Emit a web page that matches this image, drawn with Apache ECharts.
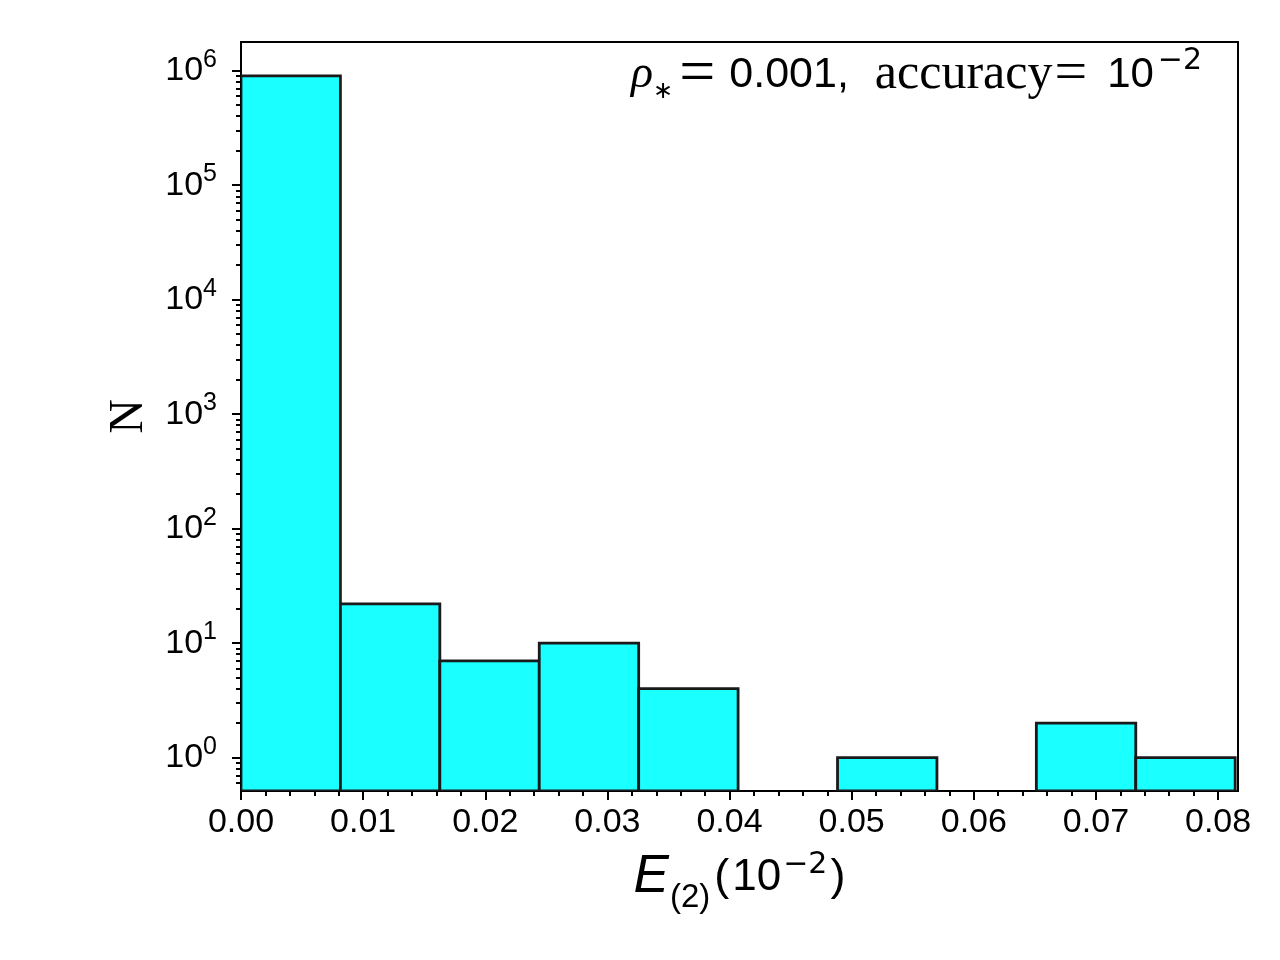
<!DOCTYPE html>
<html>
<head>
<meta charset="utf-8">
<script src="https://cdn.jsdelivr.net/npm/echarts@6/dist/echarts.min.js"></script>
<style>
  html, body { margin: 0; padding: 0; background: #fff; }
  #main { width: 1280px; height: 960px; }
</style>
</head>
<body>
<div id="main"></div>
<script>
// histogram: bin edges and counts
var binLeft  = [0, 0.00814, 0.01628, 0.02442, 0.03256, 0.0407, 0.04884, 0.05698, 0.06512, 0.07326];
var binRight = [0.00814, 0.01628, 0.02442, 0.03256, 0.0407, 0.04884, 0.05698, 0.06512, 0.07326, 0.0814];
var counts   = [900000, 22, 7, 10, 4, 0, 1, 0, 2, 1];

// axis ranges and ticks
var xMin = 0, xMax = 0.08163;
var yMin = 0.511, yMax = 1.78e6;
var xTicks = [0, 0.01, 0.02, 0.03, 0.04, 0.05, 0.06, 0.07, 0.08];
var xMinorTicks = [0.002, 0.004, 0.006, 0.008, 0.012, 0.014, 0.016, 0.018,
                   0.022, 0.024, 0.026, 0.028, 0.032, 0.034, 0.036, 0.038,
                   0.042, 0.044, 0.046, 0.048, 0.052, 0.054, 0.056, 0.058,
                   0.062, 0.064, 0.066, 0.068, 0.072, 0.074, 0.076, 0.078];
var yTicks = [1, 10, 100, 1000, 10000, 100000, 1000000];
var yMinorTicks = [0.6, 0.7, 0.8, 0.9];
yTicks.slice(0, 6).forEach(function (d) {
    for (var m = 2; m <= 9; m++) yMinorTicks.push(m * d);
});

var black = '#000';
var sans = 'Liberation Sans';
var serif = 'Liberation Serif';
var dejavu = 'DejaVu Sans';

function txt(family, size, extra) {
    var s = { fontFamily: family, fontSize: size, fontWeight: 'normal', color: black };
    for (var k in extra) s[k] = extra[k];
    return s;
}

var chart = echarts.init(document.getElementById('main'));

var option = {
    animation: false,
    backgroundColor: '#fff',
    title: {
        text: '{r|ρ}{st|∗}{eq|=}{n|0.001,}{a|accuracy}{eq2|=}{n2|10}{sup|−2}',
        left: 631,
        top: 43,
        padding: 0,
        textStyle: {
            fontWeight: 'normal',
            rich: {
                r: txt(serif, 46, { fontStyle: 'italic' }),
                st: txt(dejavu, 24, { padding: [33, 0, 0, 0] }),
                eq: txt(serif, 64, { padding: [0, 10, 0, 6] }),
                n: txt(sans, 43, { padding: [0, 0, 0, 4] }),
                a: txt(serif, 50, { padding: [0, 0, 0, 26] }),
                eq2: txt(serif, 58, { padding: [0, 0, 0, 2] }),
                n2: txt(sans, 42, { padding: [0, 0, 0, 20] }),
                sup: txt(dejavu, 30, { padding: [0, 0, 27, 4] })
            }
        }
    },
    grid: {
        left: 241, right: 42, top: 42, bottom: 169,
        show: true, borderColor: black, borderWidth: 2, backgroundColor: 'transparent'
    },
    xAxis: [{
        type: 'value', min: xMin, max: xMax,
        position: 'bottom',
        axisLine: { lineStyle: { color: black, width: 2 } },
        axisTick: { customValues: xTicks, length: 9, lineStyle: { color: black, width: 2 } },
        axisLabel: {
            customValues: xTicks, margin: 15, color: black, fontFamily: sans, fontSize: 34,
            formatter: function (v) { return v.toFixed(2); }
        },
        splitLine: { show: false },
        name: '{e|E}{sub|(2)}{p1|(}{n|10}{sup|−2}{p2|)}',
        nameLocation: 'middle',
        nameGap: 50,
        nameTextStyle: {
            rich: {
                e: txt(sans, 53, { fontStyle: 'italic' }),
                sub: txt(sans, 33, { padding: [40, 0, 0, 1] }),
                p1: txt(sans, 45, { padding: [0, 3, 0, 4] }),
                n: txt(sans, 44),
                sup: txt(dejavu, 30, { padding: [0, 0, 25, 2] }),
                p2: txt(sans, 45, { padding: [0, 0, 0, 3] })
            }
        }
    }, {
        type: 'value', min: xMin, max: xMax,
        position: 'bottom',
        axisLine: { show: false },
        axisTick: { customValues: xMinorTicks, length: 5, lineStyle: { color: black, width: 2 } },
        axisLabel: { show: false },
        splitLine: { show: false }
    }],
    yAxis: [{
        type: 'log', logBase: 10, min: yMin, max: yMax,
        position: 'left',
        axisLine: { show: true, lineStyle: { color: black, width: 2 } },
        axisTick: { show: true, customValues: yTicks, length: 9, lineStyle: { color: black, width: 2 } },
        axisLabel: {
            customValues: yTicks, margin: 24, color: black,
            formatter: function (v) {
                return '{b|10}{s|' + Math.round(Math.log10(v)) + '}';
            },
            rich: {
                b: txt(sans, 34),
                s: txt(sans, 25, { padding: [0, 0, 22, 0] })
            }
        },
        splitLine: { show: false },
        name: 'N',
        nameLocation: 'middle',
        nameGap: 88,
        nameTextStyle: txt(serif, 48)
    }, {
        type: 'log', logBase: 10, min: yMin, max: yMax,
        position: 'left',
        axisLine: { show: false },
        axisTick: { show: true, customValues: yMinorTicks, length: 5, lineStyle: { color: black, width: 2 } },
        axisLabel: { show: false },
        splitLine: { show: false }
    }],
    series: [{
        type: 'custom',
        xAxisIndex: 0,
        yAxisIndex: 0,
        clip: true,
        encode: { x: [0, 1], y: 2 },
        data: binLeft.map(function (x0, i) {
            return [x0, binRight[i], counts[i]];
        }).filter(function (d) { return d[2] > 0; }),
        renderItem: function (params, api) {
            var tl = api.coord([api.value(0), api.value(2)]);
            var br = api.coord([api.value(1), yMin]);
            return {
                type: 'rect',
                shape: { x: tl[0], y: tl[1], width: br[0] - tl[0], height: br[1] - tl[1] },
                style: { fill: '#1affff', stroke: '#1a1a1a', lineWidth: 2.8 }
            };
        }
    }]
};

chart.setOption(option);
</script>
</body>
</html>
